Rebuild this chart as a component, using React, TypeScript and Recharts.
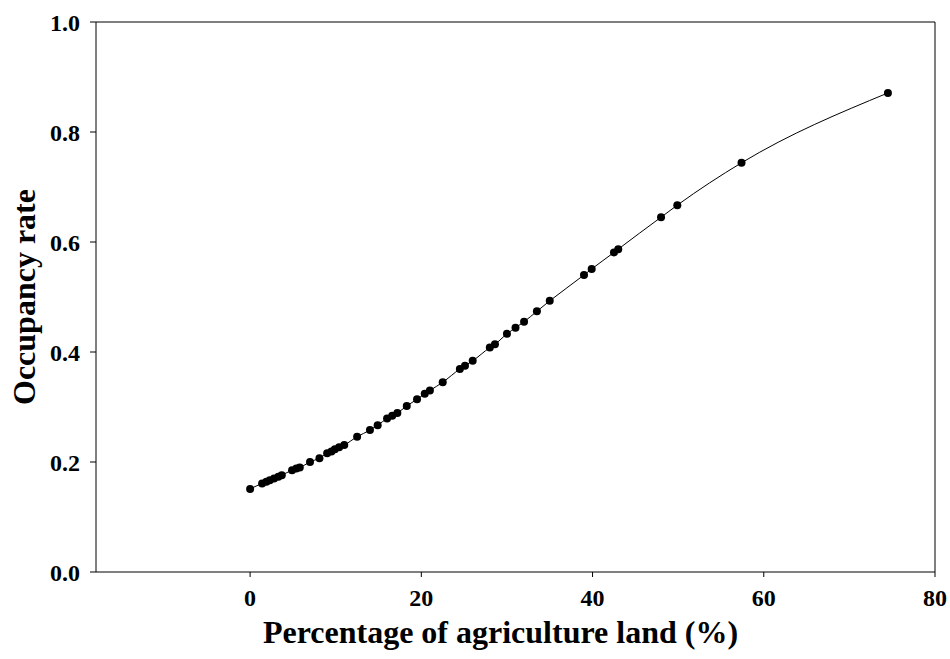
import * as React from 'react';
import {
  ComposedChart, Line, XAxis, YAxis, ReferenceLine
} from 'recharts';

// percentage of agriculture land (%)
const agriLand = [
  0.0, 1.4, 1.9, 2.3, 2.8, 3.3, 3.7, 4.9, 5.4, 5.8, 7.0, 8.1,
  9.0, 9.5, 9.9, 10.4, 11.0, 12.5, 14.0, 14.9, 16.0, 16.6, 17.2,
  18.3, 19.5, 20.4, 21.0, 22.5, 24.5, 25.1, 26.0, 28.0, 28.6,
  30.0, 31.0, 32.0, 33.5, 35.0, 39.0, 39.9, 42.5, 43.0, 48.0,
  49.9, 57.4, 74.5
];
// occupancy rate
const occupancy = [
  0.151, 0.161, 0.164, 0.167, 0.170, 0.173, 0.176, 0.185, 0.188, 0.190, 0.200, 0.207,
  0.216, 0.219, 0.223, 0.227, 0.231, 0.246, 0.258, 0.267, 0.279, 0.284, 0.289,
  0.302, 0.314, 0.324, 0.330, 0.345, 0.369, 0.375, 0.384, 0.408, 0.414,
  0.433, 0.444, 0.455, 0.474, 0.493, 0.540, 0.551, 0.581, 0.587, 0.645,
  0.667, 0.744, 0.871
];
const xTicks = [0, 20, 40, 60, 80];
const yTicks = [0, 0.2, 0.4, 0.6, 0.8, 1.0];

const font = '"Liberation Serif", "Times New Roman", serif';

export default function App() {
  const data = agriLand.map((x, i) => ({ x, y: occupancy[i] }));
  const tickStyle = { fontFamily: font, fontSize: 24, fontWeight: 'bold', fill: '#000' };
  const titleStyle = { fontFamily: font, fontSize: 32, fontWeight: 'bold', fill: '#000' };
  return (
    <div style={{ position: 'absolute', left: 0, top: 0, background: '#fff' }}>
      <ComposedChart width={950} height={659} data={data}
        margin={{ top: 22, right: 15, bottom: 0, left: 0 }}>
        <XAxis dataKey="x" type="number" domain={[-18, 80]} ticks={xTicks} height={87}
          allowDataOverflow stroke="#000" tickSize={5} tickMargin={12}
          tick={tickStyle} tickLine={{ stroke: '#000' }} axisLine={{ stroke: '#000' }}
          label={{ value: 'Percentage of agriculture land (%)', position: 'insideBottom', offset: 16, dx: -15,
            style: titleStyle }} />
        <YAxis type="number" domain={[0, 1]} ticks={yTicks} width={96}
          tickFormatter={(v: number) => v.toFixed(1)} stroke="#000" tickSize={6} tickMargin={10}
          tick={tickStyle} tickLine={{ stroke: '#000' }} axisLine={{ stroke: '#000' }}
          label={{ value: 'Occupancy rate', angle: -90, position: 'insideLeft', offset: 24,
            style: { ...titleStyle, textAnchor: 'middle' } }} />
        <ReferenceLine y={1} stroke="#000" strokeWidth={1} ifOverflow="visible" />
        <ReferenceLine x={80} stroke="#000" strokeWidth={1} ifOverflow="visible" />
        <Line type="monotone" dataKey="y" stroke="#000" strokeWidth={1}
          dot={{ r: 4, fill: '#000', stroke: '#000', strokeWidth: 0 }}
          isAnimationActive={false} />
      </ComposedChart>
    </div>
  );
}
